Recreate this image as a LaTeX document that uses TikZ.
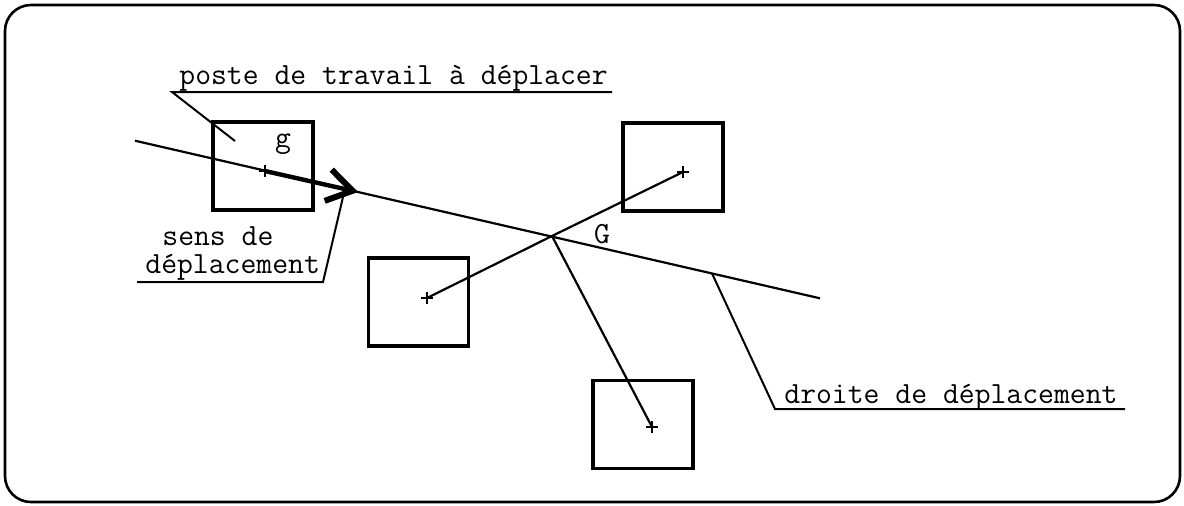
\documentclass[tikz,border=0pt]{standalone}
\usetikzlibrary{arrows.meta}
\begin{document}
\begin{tikzpicture}[x=0.5pt,y=-0.5pt,
  lbl/.style={font=\fontsize{15.4}{18}\selectfont\ttfamily, inner sep=0pt},
  poste/.style={draw, line width=1.6pt, minimum width=50pt, minimum height=44pt, inner sep=0pt},
  thin/.style={line width=1.1pt},
  leader/.style={line width=1pt}]
\useasboundingbox (0,0) rectangle (1184,505);
\draw[line width=1.3pt, rounded corners=13pt] (5,5) rectangle (1180,502);

% workstation boxes
\node[poste] (bg) at (263,166) {};
\node[poste] (b2) at (418.5,302) {};
\node[poste] (b3) at (673,167) {};
\node[poste] (b4) at (643,424.5) {};

% centres
\coordinate (cg) at (265,171);
\coordinate (c2) at (427,298);
\coordinate (c3) at (683,172);
\coordinate (c4) at (652,427);
\coordinate (G) at (552,236);
\coordinate (lineA) at (135,140.7);
\coordinate (lineB) at (820,298.3);
\coordinate (tip) at (358,192);

% crosses
\foreach \c in {cg,c2,c3,c4}
  \draw[thin] (\c) +(-6,0) -- +(6,0) (\c) +(0,-6) -- +(0,6);

% line of displacement
\draw[thin] (lineA) -- (lineB);
% links to centre G
\draw[thin] (c2) -- (G) -- (c3);
\draw[thin] (G) -- (c4);

% direction arrow
\draw[line width=2.2pt, -{Straight Barb[length=12.5pt,width=16pt,line width=3pt]}] (cg) -- (tip);

% labels
\node[lbl, anchor=base west] (tposte) at (179,84) {poste de travail à déplacer};
\node[lbl, anchor=base] (tg) at (283,147) {g};
\node[lbl, anchor=base] (tG) at (602,243) {G};
\node[lbl, anchor=base west] (tsens) at (162,245) {sens de};
\node[lbl, anchor=base west] (tdep) at (145,273) {déplacement};
\node[lbl, anchor=base west] (tdroite) at (784,403) {droite de déplacement};

% leaders
\coordinate (p1) at (235,141);
\coordinate (p2) at (172,92);
\coordinate (p3) at (612,92);
\draw[leader] (p1) -- (p2) -- (p3);

\coordinate (s1) at (343,197);
\coordinate (s2) at (323,282);
\coordinate (s3) at (137,282);
\draw[leader] (s1) -- (s2) -- (s3);

\coordinate (d1) at (712,273.4);
\coordinate (d2) at (775,409);
\coordinate (d3) at (1125,409);
\draw[leader] (d1) -- (d2) -- (d3);
\end{tikzpicture}
\end{document}
